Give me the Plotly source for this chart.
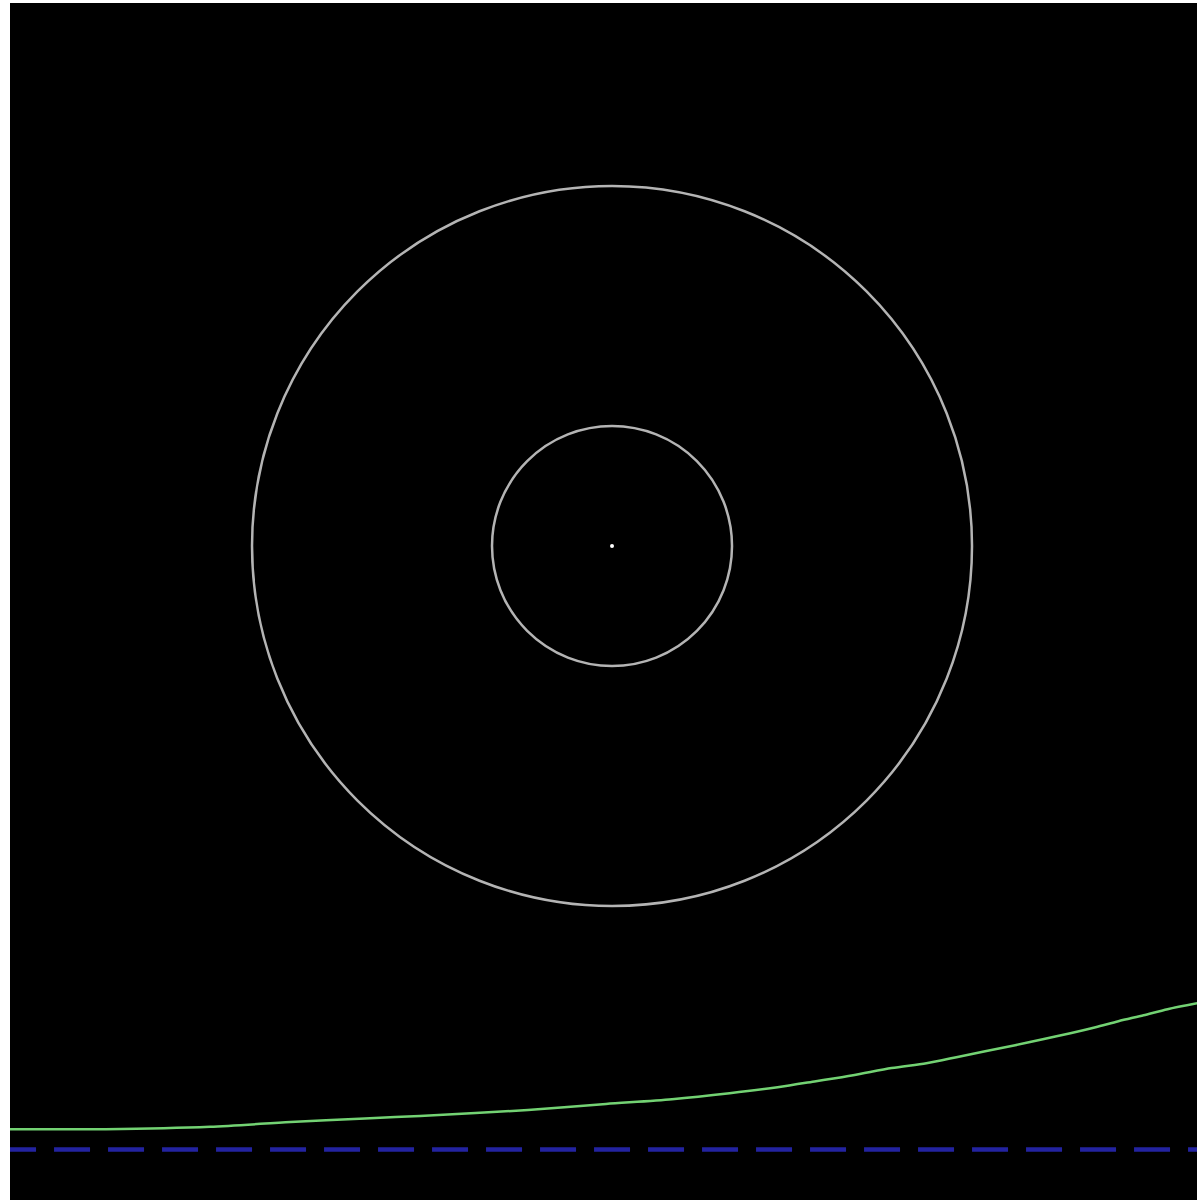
import plotly.graph_objects as go

# Circle radii (data units) and centre
center_x = [0.0]
center_y = [0.0]
circle_radii = [1.0, 3.0]

# Green curve
curve_x = [-5.02, -4.22, -3.35, -2.68, -2.06, -1.6, -0.7, -0.05, 0.5, 0.98, 1.38, 1.7, 2.01,
           2.33, 2.62, 2.87, 3.11, 3.36, 3.59, 3.82, 4.03, 4.22, 4.43, 4.63, 4.88]
curve_y = [-4.86, -4.86, -4.84, -4.8, -4.77, -4.75, -4.7, -4.65, -4.61, -4.56, -4.51, -4.46, -4.41,
           -4.35, -4.31, -4.26, -4.21, -4.16, -4.11, -4.06, -4.01, -3.96, -3.91, -3.86, -3.81]

# Blue dashed horizontal line
base_x = [-5.1, 4.9]
base_y = [-5.03, -5.03]

fig = go.Figure()

fig.add_trace(go.Scatter(x=base_x, y=base_y, mode="lines",
                         line=dict(color="rgb(35,35,160)", width=4.5, dash="36px,18px"),
                         hoverinfo="skip", showlegend=False))
fig.add_trace(go.Scatter(x=curve_x, y=curve_y, mode="lines",
                         line=dict(color="rgb(115,210,115)", width=2.5, shape="spline", smoothing=0.8),
                         hoverinfo="skip", showlegend=False))
fig.add_trace(go.Scatter(x=center_x, y=center_y, mode="markers",
                         marker=dict(color="white", size=4, line=dict(width=0)),
                         hoverinfo="skip", showlegend=False))

for r in circle_radii:
    fig.add_shape(type="circle", xref="x", yref="y",
                  x0=center_x[0] - r, x1=center_x[0] + r,
                  y0=center_y[0] - r, y1=center_y[0] + r,
                  line=dict(color="rgb(180,180,180)", width=2.5),
                  layer="above")

fig.update_layout(
    width=1197, height=1200,
    margin=dict(l=10, r=0, t=3, b=0),
    paper_bgcolor="white", plot_bgcolor="black",
    showlegend=False,
    xaxis=dict(range=[-5.017, 4.875], visible=False, showgrid=False, zeroline=False, fixedrange=True),
    yaxis=dict(range=[-5.45, 4.525], visible=False, showgrid=False, zeroline=False, fixedrange=True),
)

fig.write_html("out.html", config={"displayModeBar": False},
               post_script="document.body.style.margin='0';document.body.style.overflow='hidden';")
